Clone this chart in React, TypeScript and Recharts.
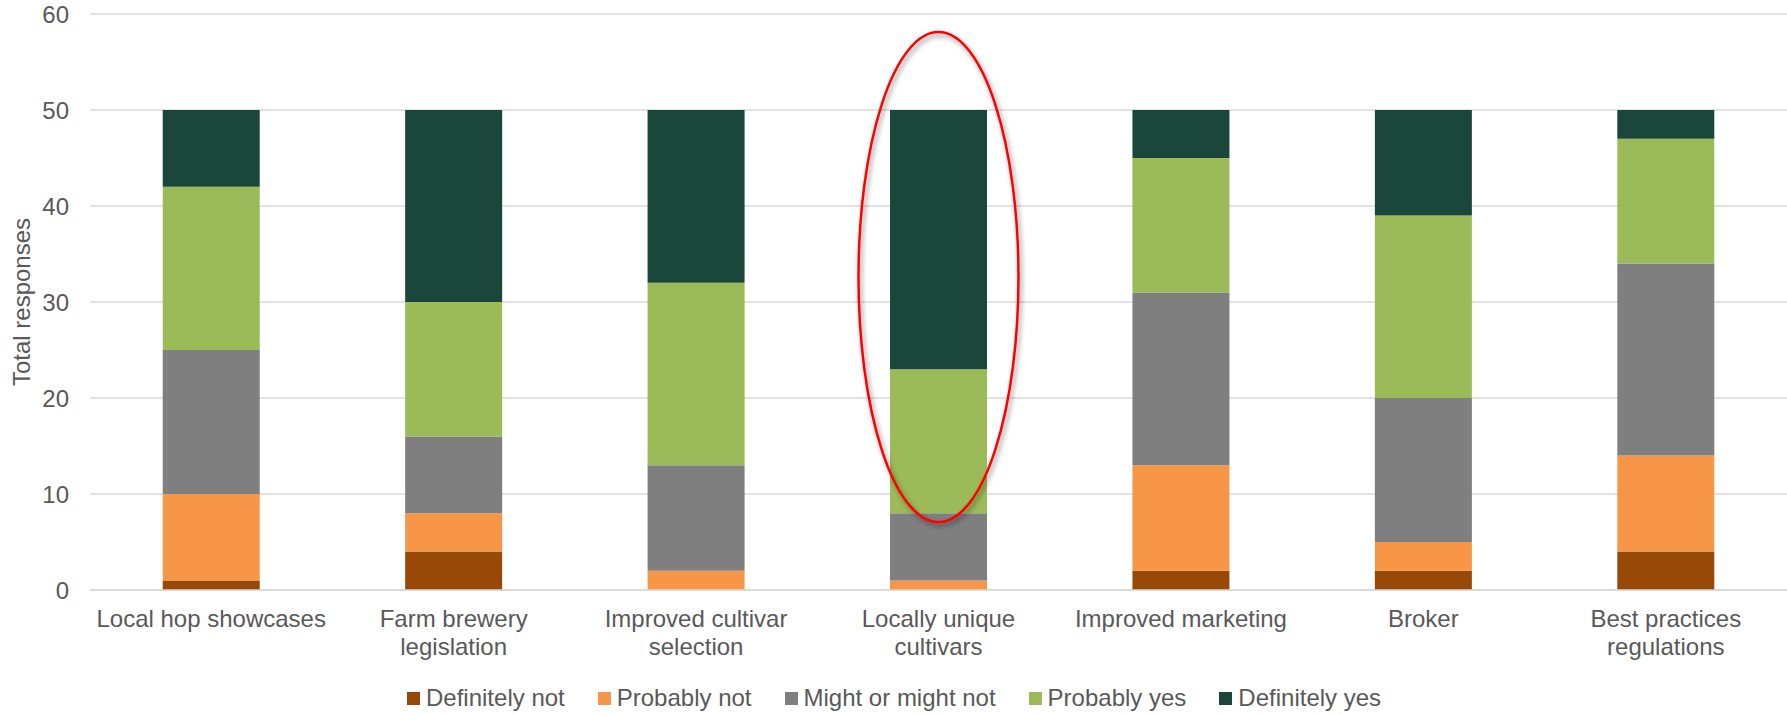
import React from "react";
import {
  BarChart,
  Bar,
  XAxis,
  YAxis,
  CartesianGrid,
  Legend,
  ReferenceDot,
} from "recharts";

const categories = [
  "Local hop showcases",
  "Farm brewery legislation",
  "Improved cultivar selection",
  "Locally unique cultivars",
  "Improved marketing",
  "Broker",
  "Best practices regulations",
];

const tickLines: string[][] = [
  ["Local hop showcases"],
  ["Farm brewery", "legislation"],
  ["Improved cultivar", "selection"],
  ["Locally unique", "cultivars"],
  ["Improved marketing"],
  ["Broker"],
  ["Best practices", "regulations"],
];

const definitelyNot = [1, 4, 0, 0, 2, 2, 4];
const probablyNot = [9, 4, 2, 1, 11, 3, 10];
const mightOrMightNot = [15, 8, 11, 7, 18, 15, 20];
const probablyYes = [17, 14, 19, 15, 14, 19, 13];
const definitelyYes = [8, 20, 18, 27, 5, 11, 3];

const yTicks = [0, 10, 20, 30, 40, 50, 60];

const seriesNames = [
  "Definitely not",
  "Probably not",
  "Might or might not",
  "Probably yes",
  "Definitely yes",
];
const seriesKeys = ["dn", "pn", "m", "py", "dy"];
const seriesColors = ["#984807", "#F79646", "#7F7F7F", "#9BBB59", "#1A463C"];

const highlightCategory = "Locally unique cultivars";
const highlightCenterValue = 32.6;

const data = categories.map((c, i) => ({
  name: c,
  dn: definitelyNot[i],
  pn: probablyNot[i],
  m: mightOrMightNot[i],
  py: probablyYes[i],
  dy: definitelyYes[i],
}));

const FONT = "'Liberation Sans', Arial, sans-serif";
const TEXT = "#595959";
const FS = 24;

const XTick = (props: any) => {
  const { x, y, payload } = props;
  const idx = categories.indexOf(payload.value);
  const lines = idx >= 0 ? tickLines[idx] : [String(payload.value)];
  return (
    <text
      x={x}
      y={y}
      textAnchor="middle"
      fill={TEXT}
      fontSize={FS}
      fontFamily={FONT}
    >
      {lines.map((l, i) => (
        <tspan key={i} x={x} dy={i === 0 ? 37 : 28}>
          {l}
        </tspan>
      ))}
    </text>
  );
};

const LegendContent = () => (
  <div style={{ position: "relative", width: 1787, height: 40 }}>
    <div
      style={{
        position: "absolute",
        left: 407,
        top: 9,
        display: "flex",
        alignItems: "center",
        whiteSpace: "nowrap",
        fontFamily: FONT,
        fontSize: FS,
        color: TEXT,
        lineHeight: "30px",
      }}
    >
      {seriesNames.map((n, i) => (
        <div
          key={n}
          style={{
            display: "flex",
            alignItems: "center",
            marginRight: i < seriesNames.length - 1 ? 33 : 0,
          }}
        >
          <div
            style={{
              width: 13,
              height: 13,
              background: seriesColors[i],
              marginRight: 6,
            }}
          />
          <span>{n}</span>
        </div>
      ))}
    </div>
  </div>
);

const EllipseShape = (props: any) => {
  const { cx, cy } = props;
  if (cx == null || cy == null) return null;
  return (
    <g>
      <defs>
        <filter id="ellShadow" x="-20%" y="-20%" width="140%" height="140%">
          <feDropShadow
            dx="2"
            dy="3"
            stdDeviation="2.5"
            floodColor="#000"
            floodOpacity="0.45"
          />
        </filter>
      </defs>
      <ellipse
        cx={cx}
        cy={cy}
        rx={80}
        ry={245}
        fill="none"
        stroke="#FF0000"
        strokeWidth={2.5}
        filter="url(#ellShadow)"
      />
    </g>
  );
};

export default function App() {
  return (
    <div
      style={{
        position: "absolute",
        left: 0,
        top: 0,
        width: 1787,
        height: 714,
        background: "#fff",
      }}
    >
      <BarChart
        width={1787}
        height={714}
        data={data}
        margin={{ top: 14, right: 0, left: 0, bottom: 0 }}
        barCategoryGap="30%"
      >
        <CartesianGrid vertical={false} stroke="#D9D9D9" strokeWidth={1.5} />
        <XAxis
          dataKey="name"
          interval={0}
          tickLine={false}
          tickSize={0}
          tickMargin={0}
          height={84}
          axisLine={{ stroke: "#D9D9D9", strokeWidth: 1.5 }}
          tick={<XTick />}
        />
        <YAxis
          width={90}
          domain={[0, 60]}
          ticks={yTicks}
          interval={0}
          axisLine={false}
          tickLine={false}
          tickSize={0}
          tickMargin={21}
          tick={{ fill: TEXT, fontSize: FS, fontFamily: FONT }}
          label={{
            value: "Total responses",
            angle: -90,
            position: "insideLeft",
            offset: 21,
            style: {
              textAnchor: "middle",
              fill: TEXT,
              fontSize: FS,
              fontFamily: FONT,
            },
          }}
        />
        {seriesKeys.map((k, i) => (
          <Bar
            key={k}
            dataKey={k}
            name={seriesNames[i]}
            stackId="a"
            fill={seriesColors[i]}
            isAnimationActive={false}
          />
        ))}
        <ReferenceDot
          x={highlightCategory}
          y={highlightCenterValue}
          ifOverflow="visible"
          shape={<EllipseShape />}
        />
        <Legend
          verticalAlign="bottom"
          align="left"
          height={40}
          wrapperStyle={{ left: 0, width: 1787 }}
          content={<LegendContent />}
        />
      </BarChart>
    </div>
  );
}
